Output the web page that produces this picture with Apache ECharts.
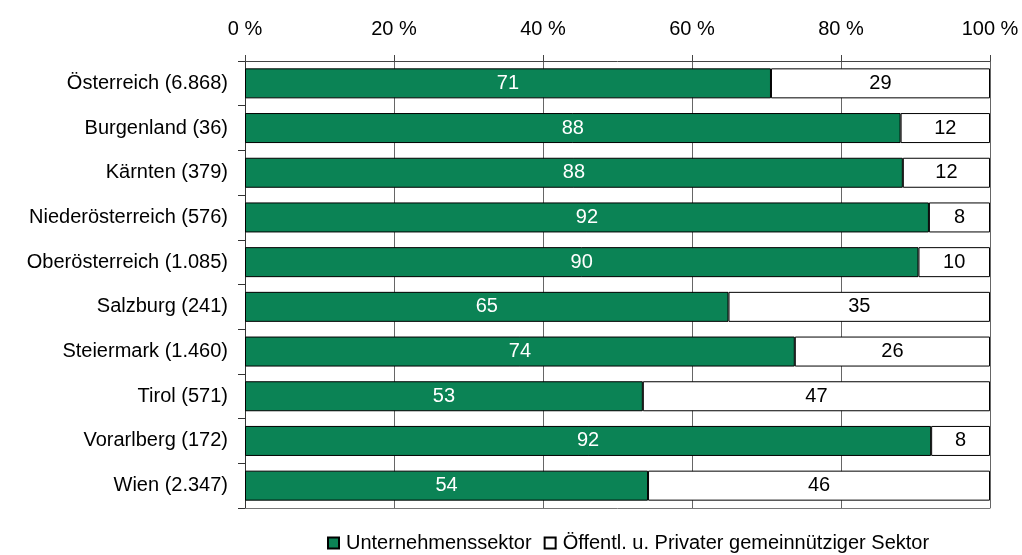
<!DOCTYPE html>
<html>
<head>
<meta charset="utf-8">
<script src="https://cdn.jsdelivr.net/npm/echarts@6/dist/echarts.min.js"></script>
<style>html,body{margin:0;padding:0;background:#fff}#c{width:1022px;height:555px}</style>
</head>
<body>
<div id="c"></div>
<script>
const categories = ['Österreich (6.868)','Burgenland (36)','Kärnten (379)','Niederösterreich (576)','Oberösterreich (1.085)','Salzburg (241)','Steiermark (1.460)','Tirol (571)','Vorarlberg (172)','Wien (2.347)'];
const unternehmen = [70.6, 88.0, 88.3, 91.8, 90.4, 64.9, 73.8, 53.4, 92.1, 54.1];
const oeffentlich = [29.4, 12.0, 11.7, 8.2, 9.6, 35.1, 26.2, 46.6, 7.9, 45.9];
const seriesNames = ['Unternehmenssektor', 'Öffentl. u. Privater gemeinnütziger Sektor'];
const xTicks = [0, 20, 40, 60, 80, 100];

const FONT = "'Liberation Sans', Arial, sans-serif";
const FS = 20;
const chart = echarts.init(document.getElementById('c'), null, {renderer: 'canvas'});
chart.setOption({
  animation: false,
  textStyle: {fontFamily: FONT, fontSize: FS, color: '#000'},
  grid: {left: 245, right: 32, top: 61, bottom: 47, containLabel: false},
  xAxis: [{
    type: 'value', position: 'top', min: xTicks[0], max: xTicks[xTicks.length - 1], interval: 20,
    axisLine: {show: true, lineStyle: {color: '#444', width: 1}},
    axisTick: {show: true, inside: false, length: 6, lineStyle: {color: '#444'}},
    axisLabel: {margin: 22, fontFamily: FONT, fontSize: FS, color: '#000', formatter: v => v + ' %'},
    splitLine: {show: true, lineStyle: {color: '#666', width: 1}}
  }, {
    type: 'value', position: 'bottom', min: 0, max: 100, interval: 20,
    axisLine: {show: true, lineStyle: {color: '#777', width: 1}},
    axisTick: {show: false}, axisLabel: {show: false}, splitLine: {show: false}
  }],
  yAxis: {
    type: 'category', data: categories, inverse: true,
    axisLine: {show: true, lineStyle: {color: '#333', width: 1}},
    axisTick: {show: true, inside: false, length: 7, lineStyle: {color: '#333'}},
    axisLabel: {margin: 17, fontFamily: FONT, fontSize: FS, color: '#000'}
  },
  legend: {
    left: 322, top: 528, itemWidth: 11, itemHeight: 11, itemGap: 12,
    icon: 'rect',
    textStyle: {fontFamily: FONT, fontSize: FS, color: '#000', padding: [0, 0, 0, 2]},
    data: seriesNames
  },
  series: [{
    name: seriesNames[0], type: 'bar', stack: 'a', data: unternehmen, barWidth: 30,
    itemStyle: {color: '#0b8355', borderColor: '#000', borderWidth: 1},
    label: {show: true, position: 'inside', color: '#fff', fontFamily: FONT, fontSize: FS, formatter: p => Math.round(p.value)}
  }, {
    name: seriesNames[1], type: 'bar', stack: 'a', data: oeffentlich, barWidth: 30,
    itemStyle: {color: '#fff', borderColor: '#000', borderWidth: 1},
    label: {show: true, position: 'inside', color: '#000', fontFamily: FONT, fontSize: FS, formatter: p => Math.round(p.value)}
  }]
});
</script>
</body>
</html>
